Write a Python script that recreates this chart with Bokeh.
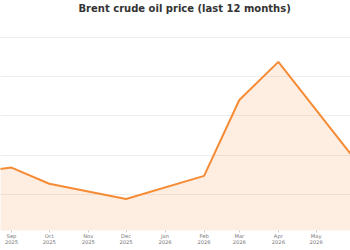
from datetime import datetime
from bokeh.plotting import figure
from bokeh.models import Range1d, DatetimeTickFormatter, MonthsTicker, SingleIntervalTicker
from bokeh.embed import file_html
from bokeh.resources import INLINE

# Data
dates = [datetime(2025, 8, 1), datetime(2025, 9, 1), datetime(2025, 10, 1), datetime(2025, 12, 1),
         datetime(2026, 2, 1), datetime(2026, 3, 1), datetime(2026, 4, 1), datetime(2026, 6, 1)]
price = [65.5, 66.8, 62.7, 58.8, 64.7, 84.0, 93.7, 68.8]
baseline = [50] * len(price)

title = "Brent crude oil price (last 12 months)"

p = figure(width=350, height=250, output_backend="svg", toolbar_location=None,
           x_axis_type="datetime",
           x_range=Range1d(datetime(2025, 8, 23, 6), datetime(2026, 5, 28, 8)),
           y_range=Range1d(50.8, 105.75),
           min_border_left=0, min_border_right=0, min_border_top=0, min_border_bottom=20)

p.title.text = title
p.title.align = "left"
p.title.offset = 78
p.title.text_font = "DejaVu Sans"
p.title.text_font_size = "10px"
p.title.text_font_style = "bold"
p.title.text_color = "#333333"
p.title.standoff = 1

p.outline_line_color = None
p.background_fill_color = "white"
p.border_fill_color = "white"

p.varea(x=dates, y1=baseline, y2=price, fill_color="#f58b35", fill_alpha=0.15)
p.line(x=dates, y=price, line_color="#f58b35", line_width=2)

p.yaxis.visible = False
p.ygrid.ticker = SingleIntervalTicker(interval=10)
p.ygrid.grid_line_color = "#eeeeee"
p.ygrid.grid_line_width = 1
p.xgrid.grid_line_color = None

xa = p.xaxis[0]
xa.ticker = MonthsTicker(months=list(range(12)))
xa.formatter = DatetimeTickFormatter(months="%b\n%Y", days="%b\n%Y")
xa.axis_line_color = None
xa.major_tick_line_color = "#cccccc"
xa.major_tick_in = 0
xa.major_tick_out = 2
xa.minor_tick_line_color = None
xa.major_label_text_font = "DejaVu Sans"
xa.major_label_text_font_size = "5.2px"
xa.major_label_text_color = "#777777"
xa.major_label_text_line_height = 1.0
xa.major_label_standoff = 0

open("out.html", "w").write(file_html(p, INLINE))
